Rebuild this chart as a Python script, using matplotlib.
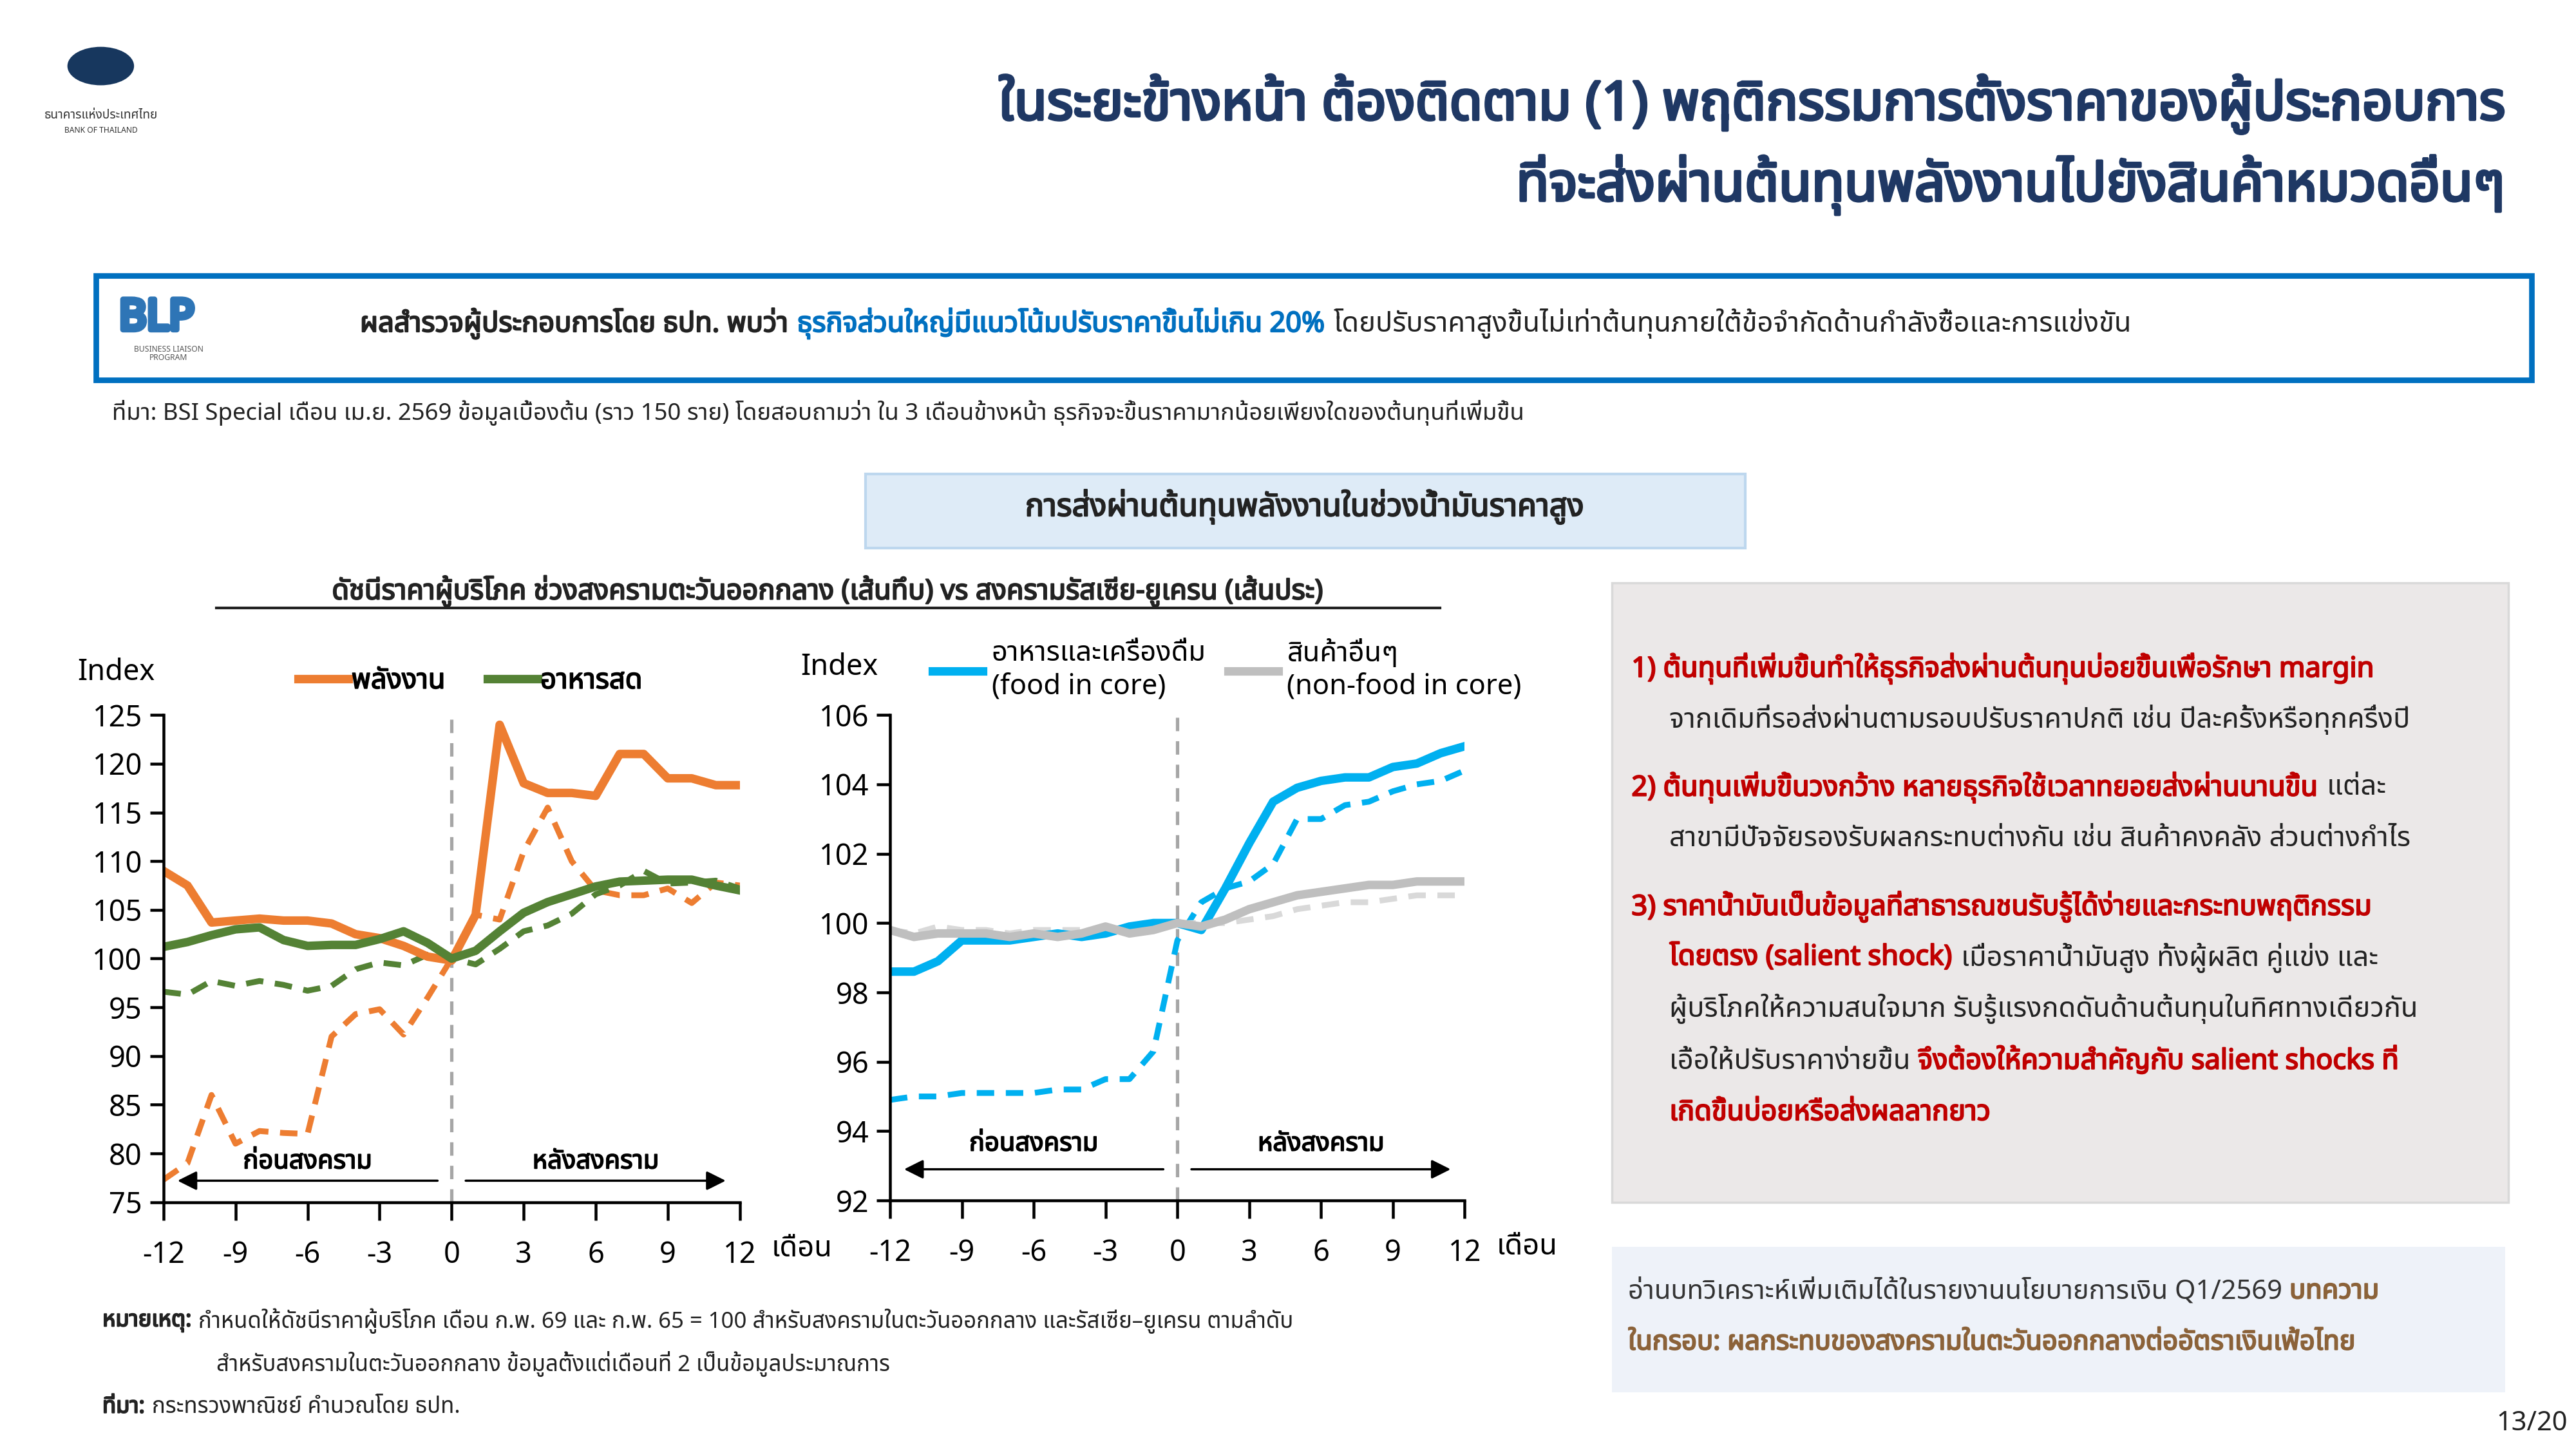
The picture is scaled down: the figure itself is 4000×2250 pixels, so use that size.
import matplotlib
matplotlib.use('Agg')
import matplotlib.pyplot as plt
from matplotlib import font_manager as fm
from matplotlib.patches import Rectangle, Circle
import matplotlib.patheffects as pe
import numpy as np

# pick a Thai-capable font
avail = {f.name for f in fm.fontManager.ttflist}
thai = next((n for n in ['Noto Sans Thai', 'Sarabun', 'Noto Sans Thai Looped', 'Kanit', 'Prompt',
                         'Bai Jamjuree', 'Athiti'] if n in avail), 'DejaVu Sans')
plt.rcParams['font.family'] = [thai, 'DejaVu Sans']

# ---- data ----
months = list(range(-12, 13))
energy_me = [109, 107.5, 103.7, 103.9, 104.1, 103.9, 103.9, 103.6, 102.5, 102.1, 101.3, 100.2, 99.8,
             104.5, 124, 118, 117, 117, 116.7, 121, 121, 118.5, 118.5, 117.8, 117.8]
fresh_me = [101.2, 101.7, 102.4, 103, 103.2, 101.9, 101.3, 101.4, 101.4, 102, 102.8, 101.6, 100,
            100.8, 102.8, 104.7, 105.8, 106.6, 107.4, 107.9, 108, 108.1, 108.1, 107.5, 107]
energy_ru = [77.3, 79, 86, 81, 82.3, 82.1, 82, 92, 94.3, 94.8, 92.2, 96, 100,
             104.5, 104, 111, 115.5, 110, 107, 106.5, 106.5, 107.2, 105.7, 107.8, 107.5]
fresh_ru = [96.6, 96.3, 97.7, 97.2, 97.7, 97.3, 96.7, 97.2, 98.9, 99.6, 99.3, 100.4, 100,
            99.4, 101, 102.8, 103.4, 104.6, 106.6, 107.5, 109, 107.7, 107.8, 108, 107.2]
food_me = [98.6, 98.6, 98.9, 99.5, 99.5, 99.5, 99.6, 99.7, 99.6, 99.7, 99.9, 100, 100,
           99.8, 101, 102.3, 103.5, 103.9, 104.1, 104.2, 104.2, 104.5, 104.6, 104.9, 105.1]
food_ru = [94.9, 95, 95, 95.1, 95.1, 95.1, 95.1, 95.2, 95.2, 95.5, 95.5, 96.3, 99.5,
           100.6, 101, 101.2, 101.7, 103, 103, 103.4, 103.5, 103.8, 104, 104.1, 104.4]
nonfood_me = [99.8, 99.6, 99.7, 99.7, 99.7, 99.6, 99.7, 99.6, 99.7, 99.9, 99.7, 99.8, 100,
              99.9, 100.1, 100.4, 100.6, 100.8, 100.9, 101, 101.1, 101.1, 101.2, 101.2, 101.2]
nonfood_ru = [99.8, 99.7, 99.9, 99.8, 99.8, 99.7, 99.8, 99.8, 99.8, 99.8, 99.8, 99.9, 100,
              100, 100, 100.1, 100.2, 100.4, 100.5, 100.6, 100.6, 100.7, 100.8, 100.8, 100.8]
xticks = [-12, -9, -6, -3, 0, 3, 6, 9, 12]

navy = '#1F3864'
red = '#C00000'

fig = plt.figure(figsize=(16, 9), dpi=250)
W, H = 1560.0, 877.5  # reference layout units


def fx(x):
    return x / W


def fy(y):
    return 1 - y / H


def bold(c, w=0.6):
    # fake bold, the Thai font has only one weight here
    return [pe.withStroke(linewidth=w, foreground=c)]


def rich(x, y, parts, size, **kw):
    # draw text pieces one after another on one line
    r = fig.canvas.get_renderer()
    cx = fx(x)
    for s, c, b in parts:
        t = fig.text(cx, fy(y), s, color=c, fontsize=size, va='center', ha='left',
                     path_effects=bold(c) if b else None, **kw)
        bb = t.get_window_extent(renderer=r)
        cx += bb.width / fig.bbox.width
        if b:
            cx += 0.6 / 72 * 250 / fig.bbox.width


# logo
fig.patches.append(Circle((fx(61), fy(40)), 0.0125, transform=fig.transFigure, color='#17375E'))
fig.text(fx(61), fy(70), 'ธนาคารแห่งประเทศไทย', fontsize=5.5, ha='center', va='center', color='#333333')
fig.text(fx(61), fy(79), 'BANK OF THAILAND', fontsize=3.5, ha='center', va='center', color='#333333')

# title
fig.text(fx(1517), fy(63), 'ในระยะข้างหน้า ต้องติดตาม (1) พฤติกรรมการตั้งราคาของผู้ประกอบการ',
         fontsize=24, color=navy, ha='right', va='center', path_effects=bold(navy, 1.2))
fig.text(fx(1517), fy(112), 'ที่จะส่งผ่านต้นทุนพลังงานไปยังสินค้าหมวดอื่นๆ',
         fontsize=24, color=navy, ha='right', va='center', path_effects=bold(navy, 1.2))

# BLP box
fig.patches.append(Rectangle((fx(58), fy(230)), fx(1475), 63 / H, transform=fig.transFigure,
                             fill=False, ec='#0070C0', lw=2.5))
fig.text(fx(72), fy(193), 'BLP', fontsize=19, color='#2E75B6', va='center',
         path_effects=bold('#2E75B6', 2.5))
fig.text(fx(102), fy(214), 'BUSINESS LIAISON\nPROGRAM', fontsize=3.5, color='#555555', ha='center',
         va='center', linespacing=1.0)
rich(218, 196, [('ผลสำรวจผู้ประกอบการโดย ธปท. พบว่า ', '#222222', True),
                ('ธุรกิจส่วนใหญ่มีแนวโน้มปรับราคาขึ้นไม่เกิน 20% ', '#0070C0', True),
                ('โดยปรับราคาสูงขึ้นไม่เท่าต้นทุนภายใต้ข้อจำกัดด้านกำลังซื้อและการแข่งขัน', '#222222', False)], 12.5)
fig.text(fx(68), fy(250), 'ที่มา: BSI Special เดือน เม.ย. 2569 ข้อมูลเบื้องต้น (ราว 150 ราย) โดยสอบถามว่า ใน 3 เดือนข้างหน้า '
         'ธุรกิจจะขึ้นราคามากน้อยเพียงใดของต้นทุนที่เพิ่มขึ้น', fontsize=10.5, color='#222222', va='center')

# subtitle box
fig.patches.append(Rectangle((fx(524), fy(332)), fx(533), 45 / H, transform=fig.transFigure,
                             fc='#DEEBF7', ec='#BDD7EE', lw=1.2))
fig.text(fx(790), fy(307), 'การส่งผ่านต้นทุนพลังงานในช่วงน้ำมันราคาสูง', fontsize=14,
         color='#222222', ha='center', va='center', path_effects=bold('#222222'))
fig.text(fx(501), fy(358), 'ดัชนีราคาผู้บริโภค ช่วงสงครามตะวันออกกลาง (เส้นทึบ) vs สงครามรัสเซีย-ยูเครน (เส้นประ)',
         fontsize=12.5, color='#222222', ha='center', va='center', path_effects=bold('#222222'))
fig.lines.append(plt.Line2D([fx(131), fx(872)], [fy(368), fy(368)], transform=fig.transFigure,
                            color='#222222', lw=1.2))


def style_axes(ax, ylo, yhi, ystep):
    ax.set_xlim(-12, 12)
    ax.set_ylim(ylo, yhi)
    ax.set_xticks(xticks)
    ax.set_xticklabels([str(v) for v in xticks])
    ax.set_yticks(np.arange(ylo, yhi + 0.1, ystep))
    for s in ['top', 'right']:
        ax.spines[s].set_visible(False)
    for s in ['left', 'bottom']:
        ax.spines[s].set_linewidth(1.3)
    ax.tick_params(axis='x', direction='out', length=8, width=1.3, pad=9, labelsize=13, colors='#000000')
    ax.tick_params(axis='y', direction='out', length=6, width=1.3, labelsize=13)
    ax.axvline(0, color='#A6A6A6', ls=(0, (4, 3)), lw=1.5, zorder=1)
    ax.text(1.055, -0.095, 'เดือน', transform=ax.transAxes, fontsize=13, ha='left', va='center')
    ax.patch.set_alpha(0)


def war_arrows(ax, y, ty):
    ax.annotate('', xy=(-11.6, y), xytext=(-0.4, y),
                arrowprops=dict(arrowstyle='-|>', color='black', lw=1, mutation_scale=18))
    ax.annotate('', xy=(11.6, y), xytext=(0.4, y),
                arrowprops=dict(arrowstyle='-|>', color='black', lw=1, mutation_scale=18))
    ax.text(-6, ty, 'ก่อนสงคราม', ha='center', va='bottom', fontsize=11.5, path_effects=bold('black', 0.5))
    ax.text(6, ty, 'หลังสงคราม', ha='center', va='bottom', fontsize=11.5, path_effects=bold('black', 0.5))


# left chart
ax1 = fig.add_axes([fx(99), fy(728), fx(349), 295 / H])
style_axes(ax1, 75, 125, 5)
ax1.plot(months, energy_ru, color='#ED7D31', lw=2.6, ls=(0, (3, 2)))
ax1.plot(months, fresh_ru, color='#548235', lw=2.6, ls=(0, (3, 2)))
ax1.plot(months, energy_me, color='#ED7D31', lw=3.8, label='พลังงาน')
ax1.plot(months, fresh_me, color='#548235', lw=3.8, label='อาหารสด')
war_arrows(ax1, 77.2, 77.8)
leg1 = ax1.legend(loc='lower left', bbox_to_anchor=(0.2, 1.0), ncol=2, frameon=False, fontsize=12.5,
                  handlelength=1.8, handletextpad=0.1, columnspacing=1.5, borderaxespad=0.3)
for t in leg1.get_texts():
    t.set_path_effects(bold('black', 0.5))
fig.text(fx(47), fy(407), 'Index', fontsize=13, va='center')

# right chart
ax2 = fig.add_axes([fx(539), fy(727), fx(348), 294 / H])
style_axes(ax2, 92, 106, 2)
ax2.plot(months, food_ru, color='#00B0F0', lw=2.6, ls=(0, (3, 2)))
ax2.plot(months, nonfood_ru, color='#D9D9D9', lw=2.6, ls=(0, (3, 2)))
ax2.plot(months, food_me, color='#00B0F0', lw=3.8, label='อาหารและเครื่องดื่ม\n(food in core)')
ax2.plot(months, nonfood_me, color='#BFBFBF', lw=3.8, label='สินค้าอื่นๆ\n(non-food in core)')
war_arrows(ax2, 92.9, 93.25)
ax2.legend(loc='lower left', bbox_to_anchor=(0.05, 1.0), ncol=2, frameon=False, fontsize=12.5,
           handlelength=1.8, handletextpad=0.3, columnspacing=0.8, borderaxespad=0.1, labelspacing=0.2)
fig.text(fx(485), fy(404), 'Index', fontsize=13, va='center')

# right grey box
fig.patches.append(Rectangle((fx(976), fy(728)), fx(543), 375 / H, transform=fig.transFigure,
                             fc='#EBE8E8', ec='#D9D9D9', lw=1))
bs = 12.5
rich(988, 405, [('1) ต้นทุนที่เพิ่มขึ้นทำให้ธุรกิจส่งผ่านต้นทุนบ่อยขึ้นเพื่อรักษา margin', red, True)], bs)
rich(1011, 436, [('จากเดิมที่รอส่งผ่านตามรอบปรับราคาปกติ เช่น ปีละครั้งหรือทุกครึ่งปี', '#222222', False)], bs)
rich(988, 477, [('2) ต้นทุนเพิ่มขึ้นวงกว้าง หลายธุรกิจใช้เวลาทยอยส่งผ่านนานขึ้น', red, True),
                (' แต่ละ', '#222222', False)], bs)
rich(1011, 508, [('สาขามีปัจจัยรองรับผลกระทบต่างกัน เช่น สินค้าคงคลัง ส่วนต่างกำไร', '#222222', False)], bs)
rich(988, 549, [('3) ราคาน้ำมันเป็นข้อมูลที่สาธารณชนรับรู้ได้ง่ายและกระทบพฤติกรรม', red, True)], bs)
rich(1011, 580, [('โดยตรง (salient shock)', red, True),
                 (' เมื่อราคาน้ำมันสูง ทั้งผู้ผลิต คู่แข่ง และ', '#222222', False)], bs)
rich(1011, 611, [('ผู้บริโภคให้ความสนใจมาก รับรู้แรงกดดันด้านต้นทุนในทิศทางเดียวกัน', '#222222', False)], bs)
rich(1011, 643, [('เอื้อให้ปรับราคาง่ายขึ้น ', '#222222', False),
                 ('จึงต้องให้ความสำคัญกับ salient shocks ที่', red, True)], bs)
rich(1011, 674, [('เกิดขึ้นบ่อยหรือส่งผลลากยาว', red, True)], bs)

# blue box
fig.patches.append(Rectangle((fx(976), fy(843)), fx(541), 88 / H, transform=fig.transFigure,
                             fc='#EEF2F9', ec='none'))
rich(986, 782, [('อ่านบทวิเคราะห์เพิ่มเติมได้ในรายงานนโยบายการเงิน Q1/2569 ', '#333333', False),
                ('บทความ', '#8B6239', True)], 12)
rich(986, 813, [('ในกรอบ: ผลกระทบของสงครามในตะวันออกกลางต่ออัตราเงินเฟ้อไทย', '#8B6239', True)], 12)

# footnotes
rich(62, 800, [('หมายเหตุ: ', '#222222', True),
               ('กำหนดให้ดัชนีราคาผู้บริโภค เดือน ก.พ. 69 และ ก.พ. 65 = 100 สำหรับสงครามในตะวันออกกลาง '
                'และรัสเซีย–ยูเครน ตามลำดับ', '#222222', False)], 10)
fig.text(fx(131), fy(826), 'สำหรับสงครามในตะวันออกกลาง ข้อมูลตั้งแต่เดือนที่ 2 เป็นข้อมูลประมาณการ',
         fontsize=10, color='#222222', va='center')
rich(62, 852, [('ที่มา: ', '#222222', True), ('กระทรวงพาณิชย์ คำนวณโดย ธปท.', '#222222', False)], 10)
fig.text(fx(1555), fy(862), '13/20', fontsize=12, ha='right', va='center', color='#222222')

fig.savefig('out.png', dpi=250)
